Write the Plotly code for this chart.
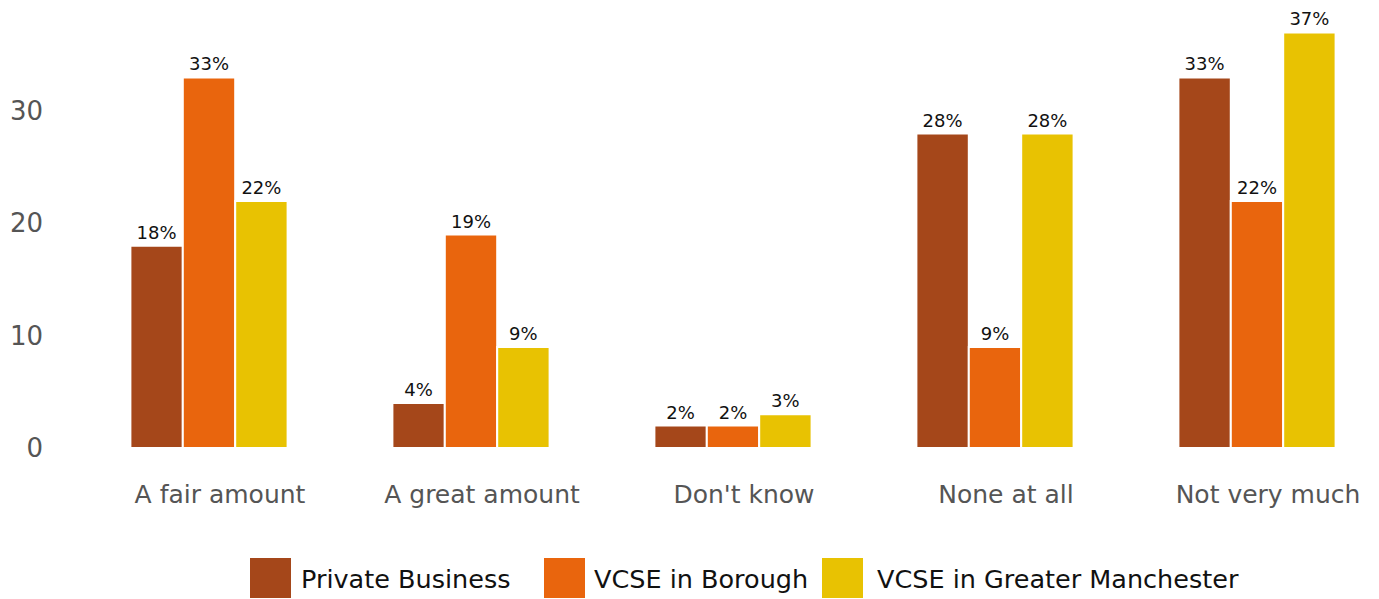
import plotly.graph_objects as go

# Survey responses (%) by organisation type
categories = ["A fair amount", "A great amount", "Don't know", "None at all", "Not very much"]
series_names = ["Private Business", "VCSE in Borough", "VCSE in Greater Manchester"]
private_business = [18, 4, 2, 28, 33]
vcse_borough = [33, 19, 2, 9, 22]
vcse_gm = [22, 9, 3, 28, 37]
colors = ["#A5471A", "#E9650D", "#E8C202"]
y_ticks = [0, 10, 20, 30]

W, H = 1379, 599
M_L, M_R, M_T, M_B = 50, 0, 10, 151
PLOT_W = W - M_L - M_R
PLOT_H = H - M_T - M_B

fig = go.Figure()
for name, vals, col in zip(series_names, [private_business, vcse_borough, vcse_gm], colors):
    fig.add_trace(go.Bar(
        name=name,
        x=categories,
        y=vals,
        marker=dict(color=col, line=dict(color="white", width=2)),
        text=[f"{v}%" for v in vals],
        textposition="outside",
        textfont=dict(family="DejaVu Sans", size=18, color="#111111"),
        cliponaxis=False,
        showlegend=False,
    ))


def px_to_paper_x(px):
    return (px - M_L) / PLOT_W


def px_to_paper_y(py):
    return (H - M_B - py) / PLOT_H


# Custom legend row below the plot: (label, colour, swatch left, text left)
legend_items = [
    (series_names[0], colors[0], 250, 299),
    (series_names[1], colors[1], 544, 592),
    (series_names[2], colors[2], 822, 875),
]
shapes = []
annotations = []
for name, col, x0, tx in legend_items:
    shapes.append(dict(
        type="rect", xref="paper", yref="paper",
        x0=px_to_paper_x(x0), x1=px_to_paper_x(x0 + 41),
        y0=px_to_paper_y(598), y1=px_to_paper_y(558),
        fillcolor=col, line=dict(width=0),
    ))
    annotations.append(dict(
        xref="paper", yref="paper",
        x=px_to_paper_x(tx), y=px_to_paper_y(579),
        xanchor="left", yanchor="middle",
        text=name, showarrow=False,
        font=dict(family="DejaVu Sans", size=25.5, color="#111111"),
    ))

fig.update_layout(
    width=W, height=H,
    margin=dict(l=M_L, r=M_R, t=M_T, b=M_B, autoexpand=False),
    barmode="group",
    bargap=0.4,
    bargroupgap=0,
    plot_bgcolor="white",
    paper_bgcolor="white",
    font=dict(family="DejaVu Sans", color="#555555"),
    shapes=shapes,
    annotations=annotations,
    showlegend=False,
)
fig.update_xaxes(
    range=[(M_L - 209) / 262, (W - M_R - 209) / 262],
    showgrid=False, zeroline=False, showline=False, ticks="",
    tickfont=dict(size=25, color="#555555"),
    ticklabelshift=11,
    ticklabelstandoff=29,
)
fig.update_yaxes(
    range=[0, 39],
    tickvals=y_ticks,
    showgrid=False, zeroline=False, showline=False, ticks="",
    tickfont=dict(size=26, color="#555555"),
    ticklabelstandoff=6,
)

fig.write_html("out.html")
